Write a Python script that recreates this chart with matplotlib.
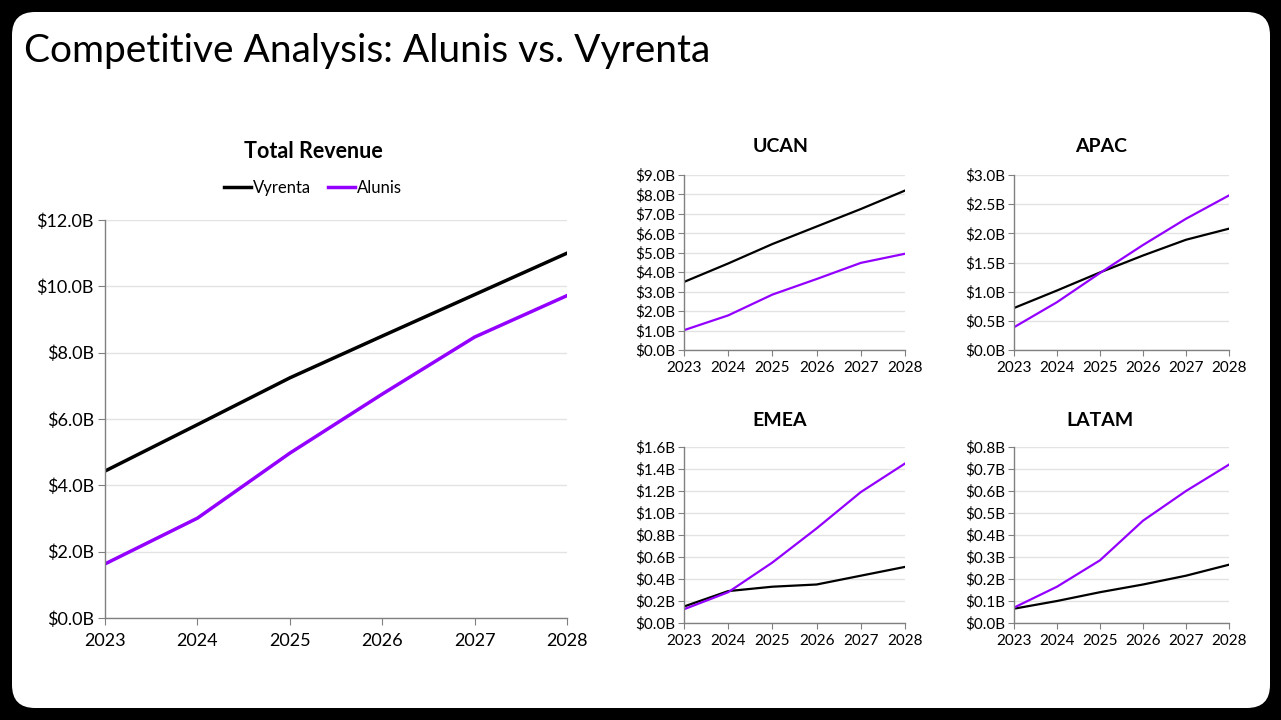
import matplotlib
matplotlib.use("Agg")
import matplotlib.pyplot as plt
from matplotlib.patches import FancyBboxPatch
from matplotlib.ticker import FuncFormatter

plt.rcParams['font.family'] = ['Lato', 'DejaVu Sans']

# Data (billions USD)
years = [2023, 2024, 2025, 2026, 2027, 2028]

total_vyrenta = [4.43, 5.83, 7.24, 8.50, 9.75, 11.0]
total_alunis = [1.63, 3.01, 4.97, 6.75, 8.47, 9.72]

ucan_vyrenta = [3.50, 4.45, 5.45, 6.35, 7.25, 8.20]
ucan_alunis = [1.02, 1.78, 2.85, 3.65, 4.48, 4.95]

apac_vyrenta = [0.72, 1.02, 1.33, 1.62, 1.89, 2.08]
apac_alunis = [0.39, 0.82, 1.32, 1.80, 2.25, 2.65]

emea_vyrenta = [0.15, 0.29, 0.33, 0.35, 0.43, 0.51]
emea_alunis = [0.125, 0.28, 0.55, 0.86, 1.19, 1.45]

latam_vyrenta = [0.065, 0.10, 0.14, 0.175, 0.215, 0.265]
latam_alunis = [0.07, 0.165, 0.285, 0.465, 0.60, 0.72]

BLACK = '#000000'
PURPLE = '#9400ff'
W, H = 1281, 720

fig = plt.figure(figsize=(12.81, 7.2), dpi=100, facecolor='black')

# white rounded slide, kept behind the axes
slide = FancyBboxPatch((12 / W, 12 / H), 1258 / W, 696 / H,
                       boxstyle="round,pad=0,rounding_size=0.018",
                       transform=fig.transFigure, facecolor='white',
                       edgecolor='none', mutation_aspect=W / H, zorder=-10)
fig.patches.append(slide)

fig.text(24 / W, 1 - 51 / H, "Competitive Analysis: Alunis vs. Vyrenta",
         fontsize=28, va='center', ha='left', color='black')


def fmt(v, pos):
    return f"${v:.1f}B"


def style_axes(ax, ymax, ystep, ticksize):
    ax.set_xlim(years[0], years[-1])
    ax.set_ylim(0, ymax)
    ax.set_xticks(years)
    n = int(round(ymax / ystep))
    ax.set_yticks([i * ystep for i in range(n + 1)])
    ax.yaxis.set_major_formatter(FuncFormatter(fmt))
    ax.grid(axis='y', color='#e3e3e3', linewidth=1)
    ax.set_axisbelow(True)
    for s in ['top', 'right']:
        ax.spines[s].set_visible(False)
    for s in ['left', 'bottom']:
        ax.spines[s].set_color('#808080')
        ax.spines[s].set_linewidth(1)
    ax.tick_params(axis='both', direction='out', length=5, color='#808080',
                   labelsize=ticksize, pad=3)
    ax.tick_params(axis='x', pad=6)
    ax.patch.set_alpha(0)


def px_axes(x0, x1, ytop, ybot):
    return fig.add_axes([x0 / W, 1 - ybot / H, (x1 - x0) / W, (ybot - ytop) / H])


# Total revenue
ax = px_axes(105, 567, 220, 618)
ax.plot(years, total_vyrenta, color=BLACK, lw=2.5, label='Vyrenta')
ax.plot(years, total_alunis, color=PURPLE, lw=2.5, label='Alunis')
style_axes(ax, 12, 2, 13)
ax.legend(loc='center', bbox_to_anchor=(313 / W, 1 - 188 / H),
          bbox_transform=fig.transFigure, ncol=2, frameon=False,
          fontsize=12, handlelength=1.6, handletextpad=0.15, columnspacing=1.0)
fig.text(313 / W, 1 - 152 / H, "Total Revenue", fontsize=15.5,
         fontweight='bold', ha='center', va='center')

# regional panels
panels = [
    ("UCAN", ucan_vyrenta, ucan_alunis, 9.0, 1.0, (684, 905, 175, 350), (781, 147)),
    ("APAC", apac_vyrenta, apac_alunis, 3.0, 0.5, (1014, 1229, 175, 350), (1101, 147)),
    ("EMEA", emea_vyrenta, emea_alunis, 1.6, 0.2, (684, 905, 447, 623), (780, 421)),
    ("LATAM", latam_vyrenta, latam_alunis, 0.8, 0.1, (1014, 1229, 447, 623), (1100, 421)),
]

for name, vy, al, ymax, ystep, box, tpos in panels:
    a = px_axes(*box)
    a.plot(years, vy, color=BLACK, lw=1.6)
    a.plot(years, al, color=PURPLE, lw=1.6)
    style_axes(a, ymax, ystep, 11)
    a.tick_params(axis='both', length=4)
    a.tick_params(axis='y', pad=2)
    a.tick_params(axis='x', pad=4)
    fig.text(tpos[0] / W, 1 - tpos[1] / H, name, fontsize=14,
             fontweight='bold', ha='center', va='center')

fig.savefig("out.png", dpi=100, facecolor='black')
